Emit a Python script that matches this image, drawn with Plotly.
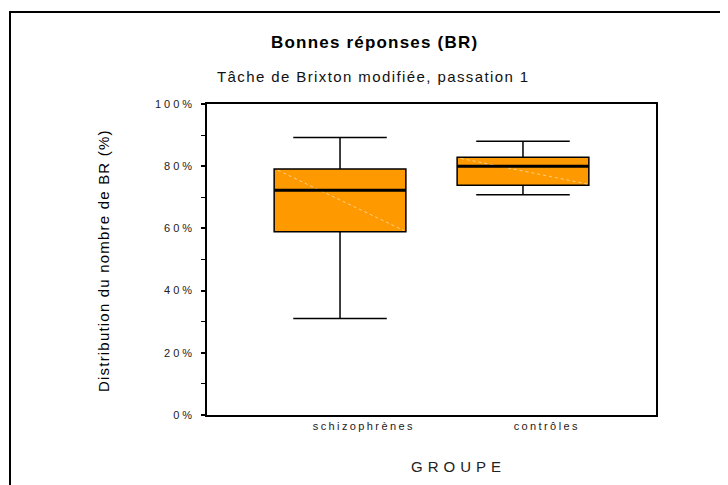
import plotly.graph_objects as go

# Données (% de bonnes réponses)
groupes = ['schizophrènes', 'contrôles']
positions = [0, 1]
moustache_basse = [31.0, 70.8]
q1 = [58.9, 73.9]
mediane = [72.3, 80.0]
q3 = [79.1, 82.9]
moustache_haute = [89.2, 88.0]

y_ticks = [0, 20, 40, 60, 80, 100]
y_minor = [10, 30, 50, 70, 90]

FONT = 'Liberation Sans, Arial, sans-serif'
ORANGE = '#FF9900'
BOX_W = 0.72

# la page ajoute une marge de 8 px : on décale tout de -8
OFF = 8
W, H = 728, 485
# zone de tracé voulue à l'écran : x 207..656, y 104..415
L, R, T, B = 207 - OFF, W - 656 + OFF, 104 - OFF, H - 415 + OFF


def spaced(txt, ls):
    return f'<span style="letter-spacing:{ls}px">{txt}</span>'


fig = go.Figure()

fig.add_trace(go.Box(
    x=positions,
    q1=q1, median=mediane, q3=q3,
    lowerfence=moustache_basse, upperfence=moustache_haute,
    width=BOX_W,
    whiskerwidth=0.71,
    fillcolor=ORANGE,
    line=dict(color='black', width=1.5),
    boxpoints=False,
    hoverinfo='skip',
    showlegend=False,
))

# reflet diagonal clair dans chaque boîte
for x, a, b in zip(positions, q3, q1):
    fig.add_trace(go.Scatter(
        x=[x - BOX_W / 2 + 0.02, x + BOX_W / 2 - 0.01], y=[a - 0.4, b + 0.4],
        mode='lines',
        line=dict(color='rgba(255,215,160,0.9)', width=1, dash='dot'),
        hoverinfo='skip', showlegend=False,
    ))

# médiane épaisse
for x, m in zip(positions, mediane):
    fig.add_trace(go.Scatter(
        x=[x - BOX_W / 2, x + BOX_W / 2], y=[m, m],
        mode='lines',
        line=dict(color='black', width=3),
        hoverinfo='skip', showlegend=False,
    ))

fig.update_layout(
    width=W, height=H, autosize=False,
    margin=dict(l=L, r=R, t=T, b=B, pad=0),
    paper_bgcolor='white',
    plot_bgcolor='white',
    font=dict(family=FONT, size=11, color='black'),
)

fig.update_xaxes(
    range=[-0.727, 1.727],
    tickvals=[p + 0.13 for p in positions],
    ticktext=[spaced(g, 2.4) for g in groupes],
    ticks='',
    showgrid=False, zeroline=False,
    showline=True, linecolor='black', linewidth=1.5, mirror=True,
    tickfont=dict(family=FONT, size=11, color='#222'),
)

fig.update_yaxes(
    range=[0, 100],
    tickvals=y_ticks,
    ticktext=[spaced(f'{v}%', 3) for v in y_ticks],
    ticks='outside', ticklen=4, tickwidth=2, tickcolor='black',
    ticklabelstandoff=4,
    minor=dict(tickvals=y_minor, ticks='outside', ticklen=4, tickwidth=1,
               tickcolor='black', showgrid=False),
    showgrid=False, zeroline=False,
    showline=True, linecolor='black', linewidth=1.5, mirror=True,
    tickfont=dict(family=FONT, size=11, color='#222'),
)


def px(x):
    return (x - OFF - L) / (W - L - R)


def py(y):
    return (H - B - (y - OFF)) / (H - T - B)


# cadre extérieur (coupé à droite et en bas)
fig.add_shape(
    type='rect', xref='paper', yref='paper',
    x0=px(10), x1=px(780), y0=py(540), y1=py(12),
    line=dict(color='black', width=2),
    layer='above',
)

textes = [
    (spaced('<b>Bonnes réponses (BR)</b>', 1.2), 374, 43, 17, 'black', 0),
    (spaced('Tâche de Brixton modifiée, passation 1', 1.4), 373, 76, 15, '#111', 0),
    (spaced('Distribution du nombre de BR (%)', 1.2), 103, 261, 15, 'black', -90),
    (spaced('GROUPE', 5), 458, 466, 15, '#222', 0),
]
for txt, x, y, size, col, ang in textes:
    fig.add_annotation(
        text=txt, xref='paper', yref='paper', x=px(x), y=py(y),
        xanchor='center', yanchor='middle', textangle=ang,
        showarrow=False, font=dict(family=FONT, size=size, color=col),
    )

fig.write_html('out.html')
